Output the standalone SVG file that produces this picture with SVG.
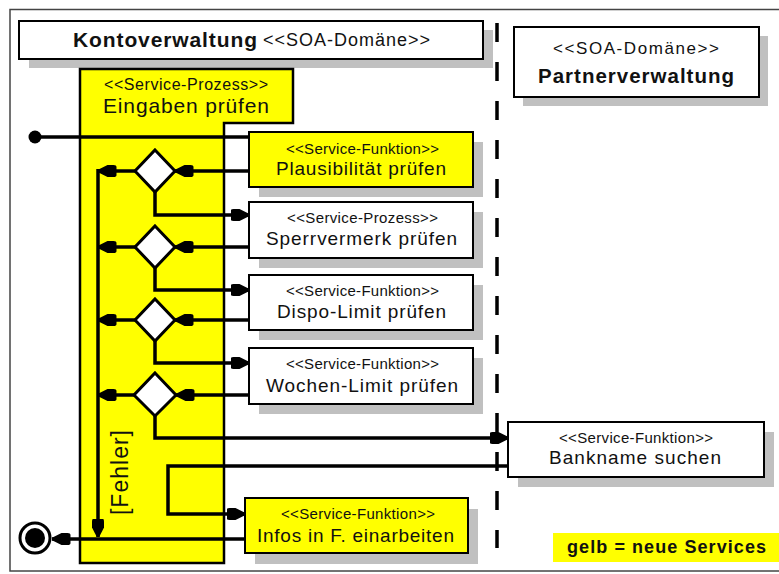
<svg xmlns="http://www.w3.org/2000/svg" width="779" height="574" viewBox="0 0 779 574">
<style>
  text{font-family:"Liberation Sans",Arial,sans-serif;fill:#111}
  .st{font-size:15px}
  .nm{font-size:19px}
  .bold{font-weight:bold}
  .box{stroke:#000;stroke-width:2}
  .yel{fill:#ffff00}
  .wht{fill:#fff}
  .sh{fill:#c0c0c0}
  .ln{fill:none;stroke:#000;stroke-width:3.5;stroke-linejoin:miter}
  .dia{fill:#fff;stroke:#000;stroke-width:3}
</style>
<defs>
  <marker id="ah" markerUnits="userSpaceOnUse" viewBox="0 -7 19 14" markerWidth="19" markerHeight="14" refX="18.5" refY="0" orient="auto">
    <path d="M0,-4 Q0,-6 3,-6 L9,-6 L18.5,-1.2 L18.5,1.2 L9,6 L3,6 Q0,6 0,4 Z" fill="#000"/>
  </marker>
</defs>

<rect width="779" height="574" fill="#fff"/>
<!-- outer frame -->
<rect x="10" y="9.5" width="800" height="561.5" fill="none" stroke="#444" stroke-width="1.5"/>

<!-- domain title: Kontoverwaltung -->
<g id="domain-konto">
  <rect class="sh" x="29" y="30" width="464" height="38"/>
  <rect class="box wht" x="19" y="21" width="464" height="38"/>
  <text class="bold" x="73" y="47" font-size="21" textLength="184" lengthAdjust="spacing">Kontoverwaltung</text>
  <text x="263" y="46" font-size="18" textLength="167" lengthAdjust="spacing">&lt;&lt;SOA-Domäne&gt;&gt;</text>
</g>

<!-- domain title: Partnerverwaltung -->
<g id="domain-partner">
  <rect class="sh" x="523" y="36" width="245" height="70"/>
  <rect class="box wht" x="514" y="27" width="245" height="70"/>
  <text x="553" y="54" font-size="17" textLength="166" lengthAdjust="spacing">&lt;&lt;SOA-Domäne&gt;&gt;</text>
  <text class="bold" x="538" y="83" font-size="20.5" textLength="196" lengthAdjust="spacing">Partnerverwaltung</text>
</g>

<!-- domain boundary -->
<line x1="497" y1="23" x2="497" y2="548" stroke="#000" stroke-width="3.5" stroke-dasharray="19 20"/>

<!-- service process container -->
<g id="proc-eingaben">
  <polygon class="yel" points="80,69 293,69 293,123 224,123 224,563 80,563" stroke="#000" stroke-width="2.5"/>
  <text x="104" y="90" font-size="16" textLength="164" lengthAdjust="spacing">&lt;&lt;Service-Prozess&gt;&gt;</text>
  <text x="103" y="113" font-size="21" textLength="166" lengthAdjust="spacing">Eingaben prüfen</text>
  <text transform="translate(128,515) rotate(-90)" font-size="23" textLength="85" lengthAdjust="spacing">[Fehler]</text>
</g>

<!-- connectors -->
<g id="connectors" class="ln">
  <path d="M35,137 H249"/>
  <path d="M249,171 H175" marker-end="url(#ah)"/>
  <path d="M135,171 H98" marker-end="url(#ah)"/>
  <path d="M155,192 V215 H249" marker-end="url(#ah)"/>
  <path d="M249,247 H175" marker-end="url(#ah)"/>
  <path d="M135,247 H98" marker-end="url(#ah)"/>
  <path d="M155,268 V290 H249" marker-end="url(#ah)"/>
  <path d="M249,320 H175" marker-end="url(#ah)"/>
  <path d="M135,320 H98" marker-end="url(#ah)"/>
  <path d="M155,341 V363 H249" marker-end="url(#ah)"/>
  <path d="M249,395 H176" marker-end="url(#ah)"/>
  <path d="M134,395 H98" marker-end="url(#ah)"/>
  <path d="M155,416 V438 H508" marker-end="url(#ah)"/>
  <path d="M508,466 H168 V514 H245" marker-end="url(#ah)"/>
  <path d="M245,539 H52" marker-end="url(#ah)"/>
  <path d="M98,169 V537" marker-end="url(#ah)"/>
</g>

<!-- start / end nodes -->
<g id="start">
  <circle cx="35" cy="137" r="6.5" fill="#000"/>
</g>
<g id="end">
  <circle cx="35" cy="538" r="15" fill="#fff" stroke="#000" stroke-width="3"/>
  <circle cx="35" cy="538" r="10" fill="#000"/>
</g>

<!-- decisions -->
<g id="dec1"><polygon class="dia" points="155,150 175,171 155,192 135,171"/></g>
<g id="dec2"><polygon class="dia" points="155,226 175,247 155,268 135,247"/></g>
<g id="dec3"><polygon class="dia" points="155,299 175,320 155,341 135,320"/></g>
<g id="dec4"><polygon class="dia" points="155,373 176,395 155,416 134,395"/></g>

<!-- service nodes -->
<g id="svc-plausi">
  <rect class="sh" x="259" y="142" width="224" height="55"/>
  <rect class="box yel" x="249" y="132" width="224" height="55"/>
  <text class="st" x="286" y="154" textLength="153" lengthAdjust="spacing">&lt;&lt;Service-Funktion&gt;&gt;</text>
  <text class="nm" x="276" y="175" textLength="170" lengthAdjust="spacing">Plausibilität prüfen</text>
</g>
<g id="svc-sperr">
  <rect class="sh" x="259" y="212" width="224" height="56"/>
  <rect class="box wht" x="249" y="202" width="224" height="56"/>
  <text class="st" x="287" y="223" textLength="151" lengthAdjust="spacing">&lt;&lt;Service-Prozess&gt;&gt;</text>
  <text class="nm" x="266" y="245" textLength="191" lengthAdjust="spacing">Sperrvermerk prüfen</text>
</g>
<g id="svc-dispo">
  <rect class="sh" x="259" y="285" width="224" height="55"/>
  <rect class="box wht" x="249" y="275" width="224" height="55"/>
  <text class="st" x="286" y="296" textLength="153" lengthAdjust="spacing">&lt;&lt;Service-Funktion&gt;&gt;</text>
  <text class="nm" x="277" y="318" textLength="169" lengthAdjust="spacing">Dispo-Limit prüfen</text>
</g>
<g id="svc-wochen">
  <rect class="sh" x="259" y="358" width="224" height="56"/>
  <rect class="box wht" x="249" y="348" width="224" height="56"/>
  <text class="st" x="286" y="369" textLength="153" lengthAdjust="spacing">&lt;&lt;Service-Funktion&gt;&gt;</text>
  <text class="nm" x="266" y="392" textLength="192" lengthAdjust="spacing">Wochen-Limit prüfen</text>
</g>
<g id="svc-bank">
  <rect class="sh" x="518" y="432" width="256" height="55"/>
  <rect class="box wht" x="508" y="422" width="256" height="55"/>
  <text class="st" x="559" y="443" textLength="154" lengthAdjust="spacing">&lt;&lt;Service-Funktion&gt;&gt;</text>
  <text class="nm" x="549" y="464" textLength="172" lengthAdjust="spacing">Bankname suchen</text>
</g>
<g id="svc-infos">
  <rect class="sh" x="255" y="509" width="223" height="55"/>
  <rect class="box yel" x="245" y="498" width="223" height="55"/>
  <text class="st" x="281" y="519" textLength="154" lengthAdjust="spacing">&lt;&lt;Service-Funktion&gt;&gt;</text>
  <text class="nm" x="257" y="542" textLength="197" lengthAdjust="spacing">Infos in F. einarbeiten</text>
</g>

<!-- legend -->
<g id="legend">
  <rect class="yel" x="553" y="533" width="226" height="29"/>
  <text class="bold" x="567" y="553" font-size="18" textLength="199" lengthAdjust="spacing">gelb = neue Services</text>
</g>
</svg>
